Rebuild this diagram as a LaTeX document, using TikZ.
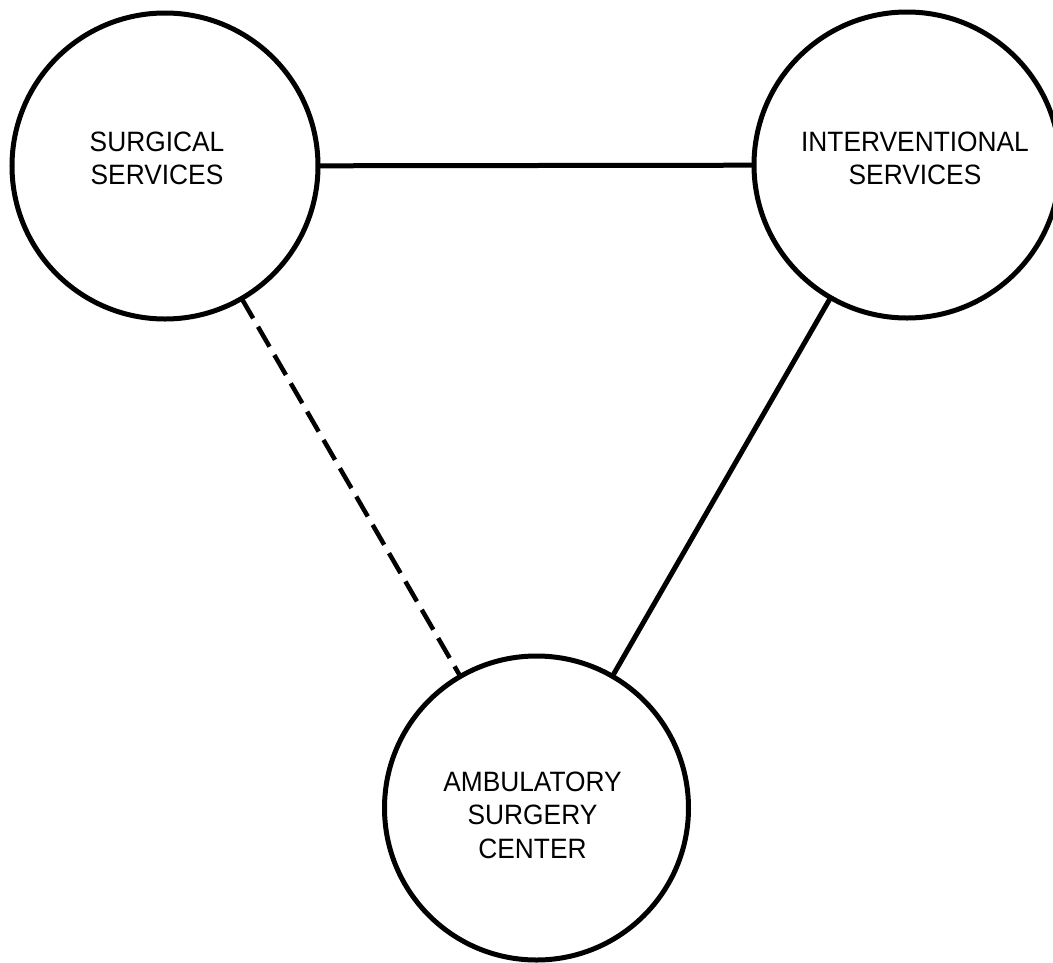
\documentclass[tikz,border=0pt]{standalone}
\usepackage{fontspec}
\setmainfont{Liberation Sans}
\newfontfamily\lblfont[FakeStretch=0.94]{Liberation Sans}
\begin{document}
\begin{tikzpicture}[x=1pt,y=-1pt,
  unit/.style={circle,draw=black,line width=5pt,minimum size=306pt,inner sep=0pt,outer sep=0pt},
  unitlabel/.style={align=center,inner sep=0pt,text=black,font=\lblfont\fontsize{28}{33.5}\selectfont},
  link/.style={draw=black,line width=5pt},
  weaklink/.style={draw=black,line width=4.5pt,dash pattern=on 23pt off 9.7pt}]
\useasboundingbox (0,0) rectangle (1053,962);
\fill[white] (0,0) rectangle (1053,962);
\node[unit] (surg) at (165,166) {};
\node[unit] (intv) at (907,165) {};
\node[unit,minimum size=304pt] (asc) at (536.5,808) {};
\node[unitlabel] (surgt) at (157,158.5) {SURGICAL\\SERVICES};
\node[unitlabel] (intvt) at (915,158.5) {INTERVENTIONAL\\SERVICES};
\node[unitlabel] (asct) at (532.5,815) {AMBULATORY\\SURGERY\\CENTER};
\draw[link] (surg) -- (intv);
\draw[link] (intv) -- (asc);
\draw[weaklink] (surg) -- (asc);
\end{tikzpicture}
\end{document}
